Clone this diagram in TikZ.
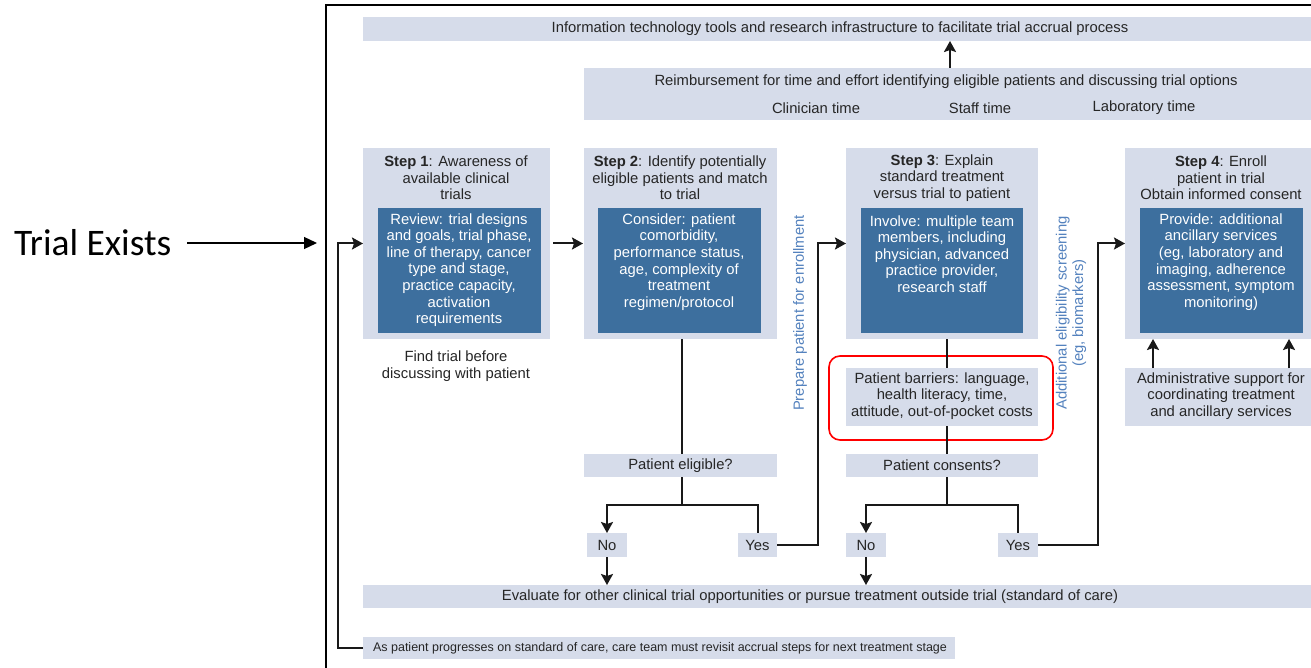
\documentclass[tikz,border=0pt]{standalone}
\usepackage{fontspec}
\setmainfont{Liberation Sans}
\newfontfamily\calibfont{Carlito}
\usetikzlibrary{arrows.meta,fit}
\definecolor{lightbox}{RGB}{214,220,234}
\definecolor{darkbox}{RGB}{61,111,158}
\definecolor{sidetext}{RGB}{84,130,190}
\begin{document}
\begin{tikzpicture}[x=1pt,y=-1pt,
  every node/.style={inner sep=0pt,outer sep=0pt},
  light/.style={fill=lightbox,draw=none},
  dark/.style={fill=darkbox,draw=none},
  txt/.style={font=\fontsize{14.8}{16.6}\selectfont,align=center,text=black!85},
  wtxt/.style={font=\fontsize{14.8}{16.6}\selectfont,align=center,text=white},
  sidelbl/.style={font=\fontsize{14.8}{16.5}\selectfont,align=center,text=sidetext,rotate=90},
  smalltxt/.style={font=\fontsize{12.5}{14}\selectfont,text=black!85},
  ln/.style={line width=2pt,draw=black!90},
  arr/.style={line width=2pt,draw=black!90,-{Stealth[length=11pt,width=12pt,inset=2pt]}},
  frame/.style={line width=1.4pt,draw=black},
]
\useasboundingbox (0,0) rectangle (1311,668);
\fill[white] (0,0) rectangle (1311,668);

% frame
\coordinate (fr0) at (326,668);
\coordinate (fr1) at (326,5);
\coordinate (fr2) at (1311,5);
\draw[frame] (fr0) -- (fr1) -- (fr2);

% Trial exists
\node[font=\calibfont\fontsize{37.5}{40}\selectfont,anchor=west] (te) at (14,243) {Trial Exists};
\coordinate (teend) at (317,243);
\draw[line width=1.3pt,-{Triangle[length=13pt,width=12pt]}] (te.east) ++(16,0) -- (teend);

% top bars
\node[light,fit={(363,17) (1311,41)}] (it) {};
\node[txt] (ittxt) at (840,29) {Information technology tools and research infrastructure to facilitate trial accrual process};
\node[light,fit={(584,68) (1311,120)}] (reimb) {};
\node[txt] (rtxt) at (946,82) {Reimbursement for time and effort identifying eligible patients and discussing trial options};
\node[txt] (clin) at (816,108) {Clinician time};
\node[txt] (staff) at (980,108) {Staff time};
\node[txt] (lab) at (1144,108) {Laboratory time};
\coordinate (itarr) at (950,68);
\draw[arr] (itarr) -- (itarr |- it.south);

% Step 1
\node[light,fit={(363,148) (550,339)}] (s1) {};
\node[txt] (s1h) at (456,178) {\textbf{Step 1}: Awareness of\\available clinical\\trials};
\node[dark,fit={(378,208) (541,333)}] (s1d) {};
\node[wtxt] (s1t) at (459,270) {Review: trial designs\\and goals, trial phase,\\line of therapy, cancer\\type and stage,\\practice capacity,\\activation\\requirements};
\node[txt] (find) at (456,366) {Find trial before\\discussing with patient};

% Step 2
\node[light,fit={(584,148) (777,339)}] (s2) {};
\node[txt] (s2h) at (680,178) {\textbf{Step 2}: Identify potentially\\eligible patients and match\\to trial};
\node[dark,fit={(598,208) (761,333)}] (s2d) {};
\node[wtxt] (s2t) at (679,262) {Consider: patient\\comorbidity,\\performance status,\\age, complexity of\\treatment\\regimen/protocol};

% Step 3
\node[light,fit={(846,148) (1038,339)}] (s3) {};
\node[txt] (s3h) at (942,178) {\textbf{Step 3}: Explain\\standard treatment\\versus trial to patient};
\node[dark,fit={(861,208) (1023,333)}] (s3d) {};
\node[wtxt] (s3t) at (942,254) {Involve: multiple team\\members, including\\physician, advanced\\practice provider,\\research staff};

% Step 4
\node[light,fit={(1125,148) (1311,339)}] (s4) {};
\node[txt] (s4h) at (1221,178) {\textbf{Step 4}: Enroll\\patient in trial\\Obtain informed consent};
\node[dark,fit={(1140,208) (1303,333)}] (s4d) {};
\node[wtxt] (s4t) at (1221,262) {Provide: additional\\ancillary services\\(eg, laboratory and\\imaging, adherence\\assessment, symptom\\monitoring)};

% admin box
\node[light,fit={(1125,368) (1311,426)}] (admin) {};
\node[txt] (admint) at (1221,396) {Administrative support for\\coordinating treatment\\and ancillary services};
\coordinate (a4l) at (1153,0);
\coordinate (a4r) at (1289,0);
\draw[arr] (admin.north -| a4l) -- (s4.south -| a4l);
\draw[arr] (admin.north -| a4r) -- (s4.south -| a4r);

% barriers
\node[light,fit={(846,368) (1038,426)}] (bar) {};
\node[txt] (bart) at (942,396) {Patient barriers: language,\\health literacy, time,\\attitude, out-of-pocket costs};
\node[draw=red,line width=1.6pt,rounded corners=11pt,fit={(829,356) (1053,440)}] (hl) {};

% decision boxes
\node[light,fit={(584,454) (777,477)}] (elig) {};
\node[txt] (eligt) at (680.5,465.5) {Patient eligible?};
\node[light,fit={(846,454) (1038,477)}] (cons) {};
\node[txt] (const) at (942,465.5) {Patient consents?};

\node[light,fit={(587,533) (627,557)}] (no1) {};
\node[txt] at (no1) {No};
\node[light,fit={(738,533) (777,557)}] (yes1) {};
\node[txt] at (yes1) {Yes};
\node[light,fit={(846,533) (886,557)}] (no2) {};
\node[txt] at (no2) {No};
\node[light,fit={(998,533) (1038,557)}] (yes2) {};
\node[txt] at (yes2) {Yes};

% evaluate and revisit bars
\node[light,fit={(363,585) (1311,608)}] (eval) {};
\node[txt] (evalt) at (810,596.5) {Evaluate for other clinical trial opportunities or pursue treatment outside trial (standard of care)};
\node[light,fit={(363,637) (955,659)}] (rev) {};
\node[smalltxt] (revt) at (660,648) {As patient progresses on standard of care, care team must revisit accrual steps for next treatment stage};

% connectors
\coordinate (fb) at (338,0);
\draw[arr] (rev.west) -| (fb |- s1.west) -- (s1.west);
\draw[arr,shorten <=3pt,shorten >=1pt] (s1.east) -- (s2.west);

\coordinate (b1) at (682,505);
\draw[ln] (s2.south -| b1) -- (elig.north -| b1);
\draw[arr] (elig.south -| b1) -- (b1) -| (no1.north);
\draw[ln] (b1) -| (yes1.north);
\draw[arr] (no1.south) -- (no1.south |- eval.north);
\coordinate (p1) at (818,0);
\draw[arr] (yes1.east) -| (p1 |- s3.west) -- (s3.west);

\coordinate (b2) at (947,505);
\draw[ln] (s3.south -| b2) -- (bar.north -| b2);
\draw[ln] (bar.south -| b2) -- (cons.north -| b2);
\draw[arr] (cons.south -| b2) -- (b2) -| (no2.north);
\draw[ln] (b2) -| (yes2.north);
\draw[arr] (no2.south) -- (no2.south |- eval.north);
\coordinate (p2) at (1098,0);
\draw[arr] (yes2.east) -| (p2 |- s4.west) -- (s4.west);

% side labels
\node[sidelbl] (prep) at (800,313) {Prepare patient for enrollment};
\node[sidelbl] (addl) at (1071,313) {Additional eligibility screening\\(eg, biomarkers)};
\end{tikzpicture}
\end{document}
